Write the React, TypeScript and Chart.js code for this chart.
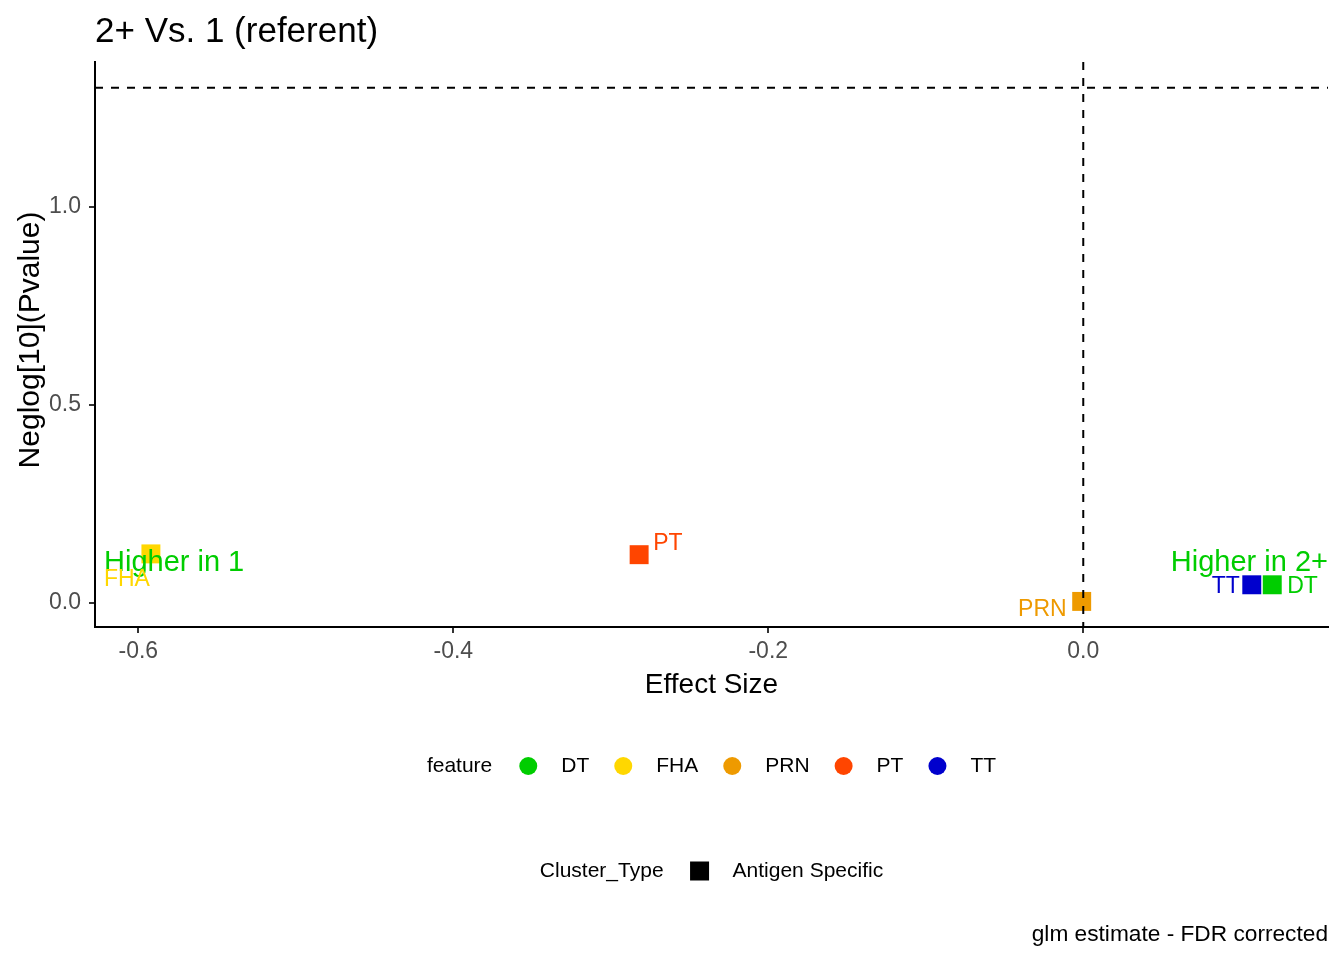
import { useEffect, useRef } from 'react'
import { Chart, registerables } from 'chart.js'

Chart.register(...registerables)

// data
const features = ['DT', 'FHA', 'PRN', 'PT', 'TT']
const featureColors = ['#00CD00', '#FFD700', '#EE9A00', '#FF4500', '#0000CD']
const effectSize = [0.12, -0.592, -0.001, -0.282, 0.107]
const negLogP = [0.046, 0.124, 0.004, 0.122, 0.046]
const xTicks = [-0.6, -0.4, -0.2, 0.0]
const yTicks = [0.0, 0.5, 1.0]
const pThreshold = 1.301 // -log10(0.05)
const clusterTypes = ['Antigen Specific']

// label placement (pixels from the point), ggrepel-ish
const labelPlace: Record<string, { dx: number; dy: number; align: CanvasTextAlign }> = {
  DT: { dx: 15, dy: 2, align: 'left' },
  FHA: { dx: -1, dy: 26, align: 'right' },
  PRN: { dx: -15, dy: 8, align: 'right' },
  PT: { dx: 14, dy: -11, align: 'left' },
  TT: { dx: -12, dy: 2, align: 'right' },
}

const FONT = '"Liberation Sans", Arial, sans-serif'

const overlay = {
  id: 'overlay',
  afterDatasetsDraw(chart: any) {
    const { ctx, chartArea } = chart
    const xs = chart.scales.x
    const ys = chart.scales.y
    const { left, right, top, bottom } = chartArea
    ctx.save()

    // reference lines
    ctx.strokeStyle = '#000'
    ctx.lineWidth = 2
    ctx.setLineDash([8, 8])
    const hy = ys.getPixelForValue(pThreshold)
    ctx.beginPath()
    ctx.moveTo(left, hy)
    ctx.lineTo(right, hy)
    ctx.stroke()
    const vx = xs.getPixelForValue(0)
    ctx.beginPath()
    ctx.moveTo(vx, top)
    ctx.lineTo(vx, bottom)
    ctx.stroke()
    ctx.setLineDash([])

    // annotations
    ctx.fillStyle = '#00CD00'
    ctx.font = `29px ${FONT}`
    ctx.textBaseline = 'middle'
    const ay = ys.getPixelForValue(0.1)
    ctx.textAlign = 'left'
    ctx.fillText('Higher in 1', left + 9, ay)
    ctx.textAlign = 'right'
    ctx.fillText('Higher in 2+', right, ay)

    // point labels
    ctx.font = `23px ${FONT}`
    features.forEach((f, i) => {
      const p = labelPlace[f]
      const px = xs.getPixelForValue(effectSize[i])
      const py = ys.getPixelForValue(negLogP[i])
      ctx.fillStyle = featureColors[i]
      ctx.textAlign = p.align
      ctx.fillText(f, px + p.dx, py + p.dy)
    })

    // title
    ctx.fillStyle = '#000'
    ctx.textAlign = 'left'
    ctx.textBaseline = 'alphabetic'
    ctx.font = `35px ${FONT}`
    ctx.fillText('2+ Vs. 1 (referent)', left, 42)

    // axis titles
    ctx.font = `28px ${FONT}`
    ctx.textAlign = 'center'
    ctx.fillText('Effect Size', (left + right) / 2, 693)
    ctx.save()
    ctx.translate(39, 340)
    ctx.rotate(-Math.PI / 2)
    ctx.font = `30px ${FONT}`
    ctx.fillText('Neglog[10](Pvalue)', 0, 0)
    ctx.restore()

    // legends
    const mid = (left + right) / 2
    ctx.font = `21px ${FONT}`
    ctx.textBaseline = 'middle'
    ctx.textAlign = 'left'
    const keyW = 18
    const drawLegend = (
      title: string,
      labels: string[],
      y: number,
      drawKey: (cx: number, i: number) => void,
    ) => {
      const titleW = ctx.measureText(title).width
      const widths = labels.map((l) => ctx.measureText(l).width)
      let total = titleW + 27
      widths.forEach((w, i) => {
        total += keyW + 24 + w + (i < labels.length - 1 ? 25 : 0)
      })
      let x = mid - total / 2
      ctx.fillStyle = '#000'
      ctx.fillText(title, x, y)
      x += titleW + 27
      labels.forEach((l, i) => {
        drawKey(x + keyW / 2, i)
        x += keyW + 24
        ctx.fillStyle = '#000'
        ctx.fillText(l, x, y)
        x += widths[i] + 25
      })
    }
    drawLegend('feature', features, 766, (cx, i) => {
      ctx.fillStyle = featureColors[i]
      ctx.beginPath()
      ctx.arc(cx, 766, 9, 0, Math.PI * 2)
      ctx.fill()
    })
    drawLegend('Cluster_Type', clusterTypes, 871, (cx) => {
      ctx.fillStyle = '#000'
      ctx.fillRect(cx - 9.5, 871 - 9.5, 19, 19)
    })

    // caption
    ctx.font = `22.7px ${FONT}`
    ctx.textAlign = 'right'
    ctx.textBaseline = 'alphabetic'
    ctx.fillText('glm estimate - FDR corrected', right, 941)

    ctx.restore()
  },
}

export default function App() {
  const canvasRef = useRef<HTMLCanvasElement | null>(null)

  useEffect(() => {
    if (!canvasRef.current) return
    const chart = new Chart(canvasRef.current, {
      type: 'scatter',
      data: {
        datasets: [
          {
            label: 'feature',
            data: features.map((_, i) => ({ x: effectSize[i], y: negLogP[i] })),
            backgroundColor: featureColors,
            borderWidth: 0,
            pointStyle: 'rect',
            pointRadius: 13.4,
            pointHoverRadius: 13.4,
          },
        ],
      },
      options: {
        animation: false,
        responsive: false,
        devicePixelRatio: 1,
        layout: { padding: { left: 0, top: 62, right: 16, bottom: 0 } },
        plugins: {
          legend: { display: false },
          tooltip: { enabled: false },
        },
        scales: {
          x: {
            type: 'linear',
            min: -0.6275,
            max: 0.1554,
            afterFit: (s: any) => {
              s.height = 333
            },
            afterBuildTicks: (s: any) => {
              s.ticks = xTicks.map((v) => ({ value: v }))
            },
            ticks: {
              color: '#4d4d4d',
              font: { size: 23, family: FONT },
              padding: 5,
              maxRotation: 0,
              callback: (v: any) => Number(v).toFixed(1),
            },
            grid: { drawOnChartArea: false, tickLength: 6, color: '#333', lineWidth: 2 },
            border: { color: '#000', width: 2 },
          },
          y: {
            type: 'linear',
            min: -0.0606,
            max: 1.366,
            afterFit: (s: any) => {
              s.width = 95
            },
            afterBuildTicks: (s: any) => {
              s.ticks = yTicks.map((v) => ({ value: v }))
            },
            ticks: {
              color: '#4d4d4d',
              font: { size: 23, family: FONT },
              padding: 8,
              callback: (v: any) => Number(v).toFixed(1),
            },
            grid: { drawOnChartArea: false, tickLength: 6, color: '#333', lineWidth: 2 },
            border: { color: '#000', width: 2 },
          },
        },
      },
      plugins: [overlay],
    })
    return () => chart.destroy()
  }, [])

  return (
    <div style={{ position: 'absolute', left: 0, top: 0, background: '#fff' }}>
      <canvas ref={canvasRef} width={1344} height={960} />
    </div>
  )
}
